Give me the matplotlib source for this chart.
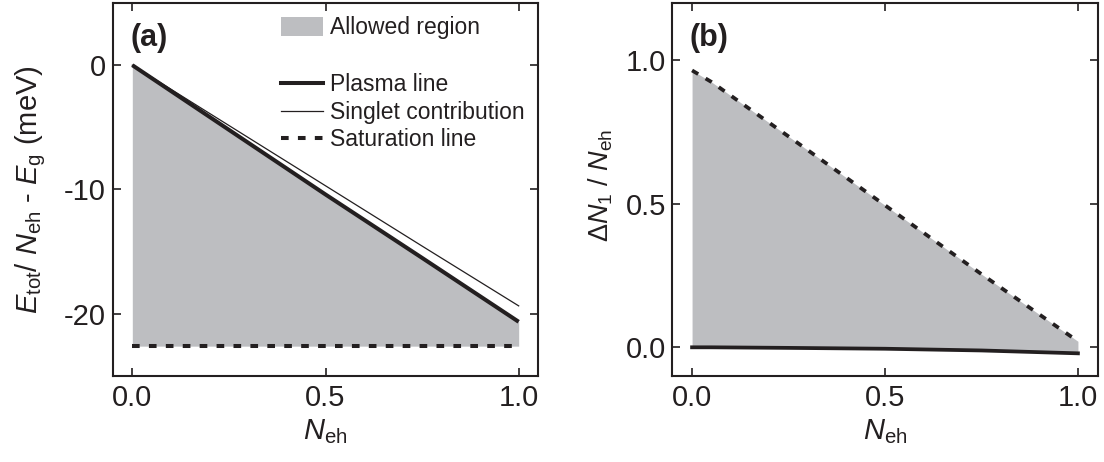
import matplotlib
matplotlib.use("Agg")
import matplotlib.pyplot as plt
from matplotlib.patches import Patch
from matplotlib.lines import Line2D

plt.rcParams['font.family'] = ['Liberation Sans', 'DejaVu Sans']
plt.rcParams['mathtext.fontset'] = 'custom'
plt.rcParams['mathtext.rm'] = 'Liberation Sans'
plt.rcParams['mathtext.it'] = 'Liberation Sans:italic'
plt.rcParams['mathtext.bf'] = 'Liberation Sans:bold'
plt.rcParams['axes.unicode_minus'] = False

# ---- data: panel (a) ----
a_x = [0.0, 0.25, 0.5, 0.75, 1.0]
a_plasma = [0.0, -5.2, -10.4, -15.5, -20.64]
a_singlet = [0.0, -4.85, -9.7, -14.55, -19.36]
a_saturation = [-22.6, -22.6, -22.6, -22.6, -22.6]

# ---- data: panel (b) ----
b_x = [0.0, 0.05, 0.25, 0.5, 0.75, 1.0]
b_saturation = [0.965, 0.925, 0.735, 0.495, 0.255, 0.021]
b_plasma = [0.0, 0.0, -0.002, -0.005, -0.011, -0.021]

a_xticks = [0.0, 0.5, 1.0]
a_yticks = [0, -10, -20]
b_xticks = [0.0, 0.5, 1.0]
b_yticks = [0.0, 0.5, 1.0]

LINE = '#231f20'
FILL = '#bdbec1'
W, H = 1104, 462

fig = plt.figure(figsize=(W / 100, H / 100), dpi=100)
axa = fig.add_axes([113 / W, 1 - 376 / H, (538 - 113) / W, (376 - 3) / H])
axb = fig.add_axes([672 / W, 1 - 376 / H, (1098 - 672) / W, (376 - 3) / H])

dash = (1.9, 2.3)

# panel (a)
axa.fill_between(a_x, a_saturation, a_plasma, color=FILL, lw=0)
axa.plot(a_x, a_singlet, color=LINE, lw=0.9)
axa.plot(a_x, a_plasma, color=LINE, lw=2.9, solid_capstyle='butt')
axa.plot(a_x, a_saturation, color=LINE, lw=2.9, dashes=dash)
axa.set_xlim(-0.05, 1.05)
axa.set_ylim(-25, 5)
axa.set_xticks(a_xticks)
axa.set_xticklabels(['%.1f' % v for v in a_xticks])
axa.set_yticks(a_yticks)
axa.set_yticklabels(['%d' % v for v in a_yticks])

# panel (b)
axb.fill_between(b_x, b_plasma, b_saturation, color=FILL, lw=0)
axb.plot(b_x, b_plasma, color=LINE, lw=2.7)
axb.plot(b_x, b_saturation, color=LINE, lw=2.7, dashes=dash)
axb.set_xlim(-0.052, 1.052)
axb.set_ylim(-0.1, 1.2)
axb.set_xticks(b_xticks)
axb.set_xticklabels(['%.1f' % v for v in b_xticks])
axb.set_yticks(b_yticks)
axb.set_yticklabels(['%.1f' % v for v in b_yticks])

for ax in (axa, axb):
    for s in ax.spines.values():
        s.set_linewidth(1.5)
        s.set_color(LINE)
    ax.tick_params(direction='in', length=6, width=1.2, top=True, right=True,
                   labelsize=21, colors=LINE, labelcolor=LINE)
    ax.tick_params(axis='x', pad=6)
    ax.set_xlabel(r'$N_{\rm eh}$', fontsize=21, color=LINE)
    ax.xaxis.set_label_coords(0.5, -0.11)

axa.tick_params(axis='y', pad=5)
axb.tick_params(axis='y', pad=4)

axa.set_ylabel(r'$E_{\rm tot}$/ $N_{\rm eh}$ - $E_{\rm g}$ (meV)', fontsize=21, color=LINE)
axa.yaxis.set_label_coords(-0.152, 0.5)
axb.set_ylabel(r'$\Delta N_{1}$ / $N_{\rm eh}$', fontsize=19.5, color=LINE)
axb.yaxis.set_label_coords(-0.133, 0.51)

axa.text(0.042, 0.906, '(a)', transform=axa.transAxes, fontsize=22,
         fontweight='bold', va='center', ha='left', color=LINE)
axb.text(0.042, 0.906, '(b)', transform=axb.transAxes, fontsize=22,
         fontweight='bold', va='center', ha='left', color=LINE)

# legends in (a)
leg1 = axa.legend(handles=[Patch(facecolor=FILL, edgecolor='none', label='Allowed region')],
                  loc='upper left', bbox_to_anchor=(0.395, 0.964), frameon=False,
                  fontsize=16.5, borderpad=0, borderaxespad=0, handlelength=1.85,
                  handleheight=0.95, handletextpad=0.28)
for t in leg1.get_texts():
    t.set_color(LINE)
axa.add_artist(leg1)
h2 = [Line2D([], [], color=LINE, lw=2.9, label='Plasma line'),
      Line2D([], [], color=LINE, lw=0.9, label='Singlet contribution'),
      Line2D([], [], color=LINE, lw=2.9, dashes=dash, label='Saturation line')]
leg2 = axa.legend(handles=h2, loc='upper left', bbox_to_anchor=(0.395, 0.812),
                  frameon=False, fontsize=16.5, borderpad=0, borderaxespad=0,
                  handlelength=1.85, handletextpad=0.28, labelspacing=0.2)
for t in leg2.get_texts():
    t.set_color(LINE)

fig.savefig('out.png', dpi=100)
